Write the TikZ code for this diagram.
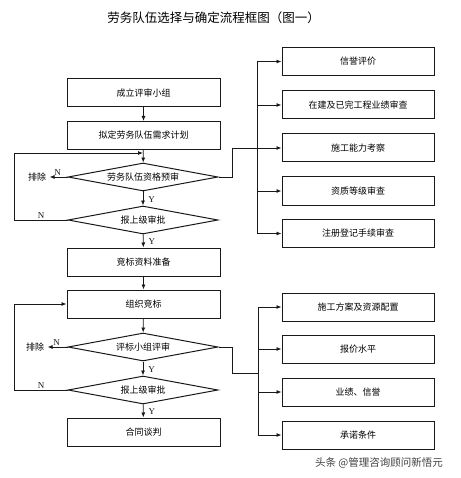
\documentclass[tikz,border=0pt]{standalone}
\usepackage{fontspec}
\setmainfont{Noto Sans CJK SC}
\newfontfamily\latinfont{Liberation Serif}
\usepackage{tikz}
\usetikzlibrary{arrows.meta, positioning, shapes.geometric}
\definecolor{lineBlack}{gray}{0.1}
\definecolor{markGray}{gray}{0.25}

\begin{document}
\begin{tikzpicture}[x=1pt, y=-1pt,
    box/.style={draw=lineBlack, line width=1pt, minimum width=153pt, minimum height=28pt, inner sep=0pt, font=\fontsize{9}{10}\selectfont},
    subbox/.style={box, minimum width=152pt},
    check/.style={draw=lineBlack, line width=1pt, shape=diamond, aspect=5.4, minimum width=150pt, minimum height=28pt, inner sep=0pt, font=\fontsize{9}{10}\selectfont},
    arr/.style={-{Latex[length=5pt, width=4pt]}, lineBlack, line width=0.8pt},
    link/.style={lineBlack, line width=0.8pt},
    yn/.style={font=\latinfont\fontsize{9}{10}\selectfont, inner sep=1pt},
    yes/.style={yn, right, pos=0.55, xshift=4pt}]
    \useasboundingbox (0,0) rectangle (460,478);
    \node[font=\fontsize{12.5}{14}\selectfont] (title) at (213.5,18) {劳务队伍选择与确定流程框图（图一）};
    % main column
    \node[box] (b1) at (143.5,93) {成立评审小组};
    \node[box] (b2) at (143.5,135.5) {拟定劳务队伍需求计划};
    \node[check] (d1) at (143,177) {劳务队伍资格预审};
    \node[check] (d2) at (143,220) {报上级审批};
    \node[box] (b3) at (143.5,262) {竞标资料准备};
    \node[box] (b4) at (143.5,304) {组织竞标};
    \node[check] (d3) at (143,347) {评标小组评审};
    \node[check] (d4) at (143,390) {报上级审批};
    \node[box] (b5) at (143.5,432) {合同谈判};
    \node[font=\fontsize{9}{10}\selectfont] (x1) at (37,177) {排除};
    \node[font=\fontsize{9}{10}\selectfont] (x2) at (35,347) {排除};
    % right column
    \foreach \name/\y/\txt in {r1/61.5/信誉评价, r2/105/在建及已完工程业绩审查, r3/148/施工能力考察, r4/191/资质等级审查, r5/233.5/注册登记手续审查,
        s1/307/施工方案及资源配置, s2/349/报价水平, s3/392/业绩、信誉, s4/435/承诺条件}
        \node[subbox] (\name) at (358,\y) {\txt};
    \coordinate (j1) at (143,153);
    \coordinate (bus1) at (257,148);
    \coordinate (bus2) at (258,373);
    % arrows
    \draw[arr] (b1) -- (b2);
    \draw[arr] (b2) -- (d1);
    \draw[arr] (d1) -- node[yes] {Y} (d2);
    \draw[arr] (d2) -- node[yes] {Y} (b3);
    \draw[arr] (b3) -- (b4);
    \draw[arr] (b4) -- (d3);
    \draw[arr] (d3) -- node[yes] {Y} (d4);
    \draw[arr] (d4) -- node[yes] {Y} (b5);
    \draw[arr] (d1.west) -- node[yn, above, pos=0.55] {N} (x1.east);
    \draw[arr] (d3.west) -- node[yn, above, pos=0.55] {N} (x2.east);
    \draw[arr] (d2.west) -- node[yn, above, pos=0.5] {N} ++(-53,0) |- (j1);
    \draw[arr] (d4.west) -- node[yn, above, pos=0.5] {N} ++(-53,0) |- (b4.west);
    \draw[link] (d1.east) -- ++(14,0) |- (bus1);
    \draw[link] (d3.east) -- ++(14,0) |- (bus2);
    \draw[link] (bus1 |- r1.west) -- (bus1 |- r5.west);
    \draw[link] (bus2 |- s1.west) -- (bus2 |- s4.west);
    \foreach \i in {1,...,5}
        \draw[arr] (bus1 |- r\i.west) -- (r\i.west);
    \foreach \i in {1,...,4}
        \draw[arr] (bus2 |- s\i.west) -- (s\i.west);
    \node[font=\fontsize{10.5}{12}\selectfont, text=markGray] (mark) at (379,463) {头条 @管理咨询顾问新悟元};
\end{tikzpicture}
\end{document}
